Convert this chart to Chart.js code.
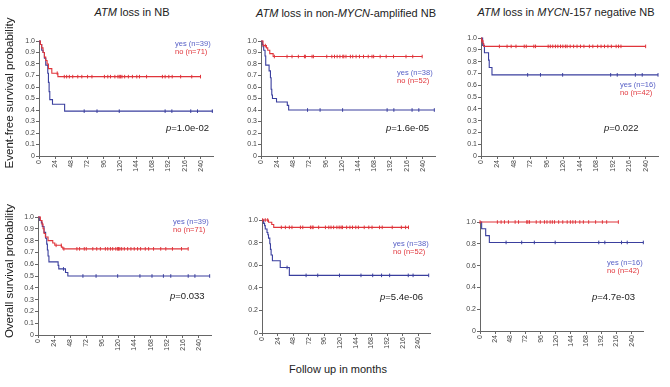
<!DOCTYPE html>
<html>
<head>
<meta charset="utf-8">
<script src="https://cdn.jsdelivr.net/npm/chart.js@4.4.1/dist/chart.umd.min.js"></script>
<style>
  html, body { margin: 0; padding: 0; background: #fff; }
  #wrap { position: relative; width: 670px; height: 387px; overflow: hidden; font-family: "Liberation Sans", Arial, sans-serif; }
  canvas { position: absolute; }
  .txt { position: absolute; white-space: nowrap; line-height: 1; }
</style>
</head>
<body>
<div id="wrap"></div>
<script>
// tick labels
const xTicks = [0, 24, 48, 72, 96, 120, 144, 168, 192, 216, 240];
const yTicks = [0, 0.1, 0.2, 0.3, 0.4, 0.5, 0.6, 0.7, 0.8, 0.9, 1.0];
const yTickLabels = ['0', '0.1', '0.2', '0.3', '0.4', '0.5', '0.6', '0.7', '0.8', '0.9', '1.0'];
const xMax = 258;

// event-free survival, all NB
const efsAllYesTime = [0, 2, 4, 6, 8, 10, 13, 14, 15, 16, 20, 38, 258];
const efsAllYesSurv = [1, .97, .92, .90, .85, .79, .72, .64, .56, .49, .45, .39, .39];
const efsAllYesCens = [67, 86, 119, 187, 197, 225, 235, 257];
const efsAllNoTime = [0, 2, 4, 6, 8, 10, 12, 14, 19, 28, 240];
const efsAllNoSurv = [1, .97, .94, .90, .86, .83, .80, .76, .72, .69, .69];
const efsAllNoCens = [27, 37.5, 41, 45, 50, 57.5, 63.5, 72, 78.5, 97, 102, 106, 112.5, 117, 119, 121, 123, 127, 132.5, 138.5, 145, 149, 159.5, 183, 187, 192.5, 197.5, 210, 226.5, 239.5];

// event-free survival, non-MYCN-amplified
const efsNonYesTime = [0, 2, 3, 4, 6, 7, 12, 14, 15, 16, 17, 23, 39, 41, 257];
const efsNonYesSurv = [1, .97, .95, .92, .87, .79, .74, .68, .58, .53, .50, .47, .44, .40, .40];
const efsNonYesCens = [69, 87.6, 121, 187, 197, 224, 234, 257];
const efsNonNoTime = [0, 3, 8, 10, 13, 18, 239];
const efsNonNoSurv = [1, .96, .94, .92, .89, .865, .865];
const efsNonNoCens = [6.4, 19.8, 38.6, 46, 55.4, 64.4, 65.8, 75.7, 77.7, 97.5, 105, 109, 112.9, 117, 121.3, 122.8, 126, 132.5, 136, 141, 146, 152, 159, 164.6, 167, 176.7, 185.6, 196.5, 215, 225, 239];

// event-free survival, MYCN-157 negative
const efsNegYesTime = [0, 2.4, 5, 11, 12, 16, 258];
const efsNegYesSurv = [1, .9375, .875, .8125, .75, .6875, .6875];
const efsNegYesCens = [68, 86.7, 119, 189, 198.6, 225, 235, 258];
const efsNegNoTime = [0, 1, 3, 4, 240];
const efsNegNoSurv = [1, .976, .952, .929, .929];
const efsNegNoCens = [1.5, 26.8, 38, 44, 51, 63, 66, 77, 79.5, 97.9, 101, 104.6, 108.5, 112, 115.9, 119.3, 123, 125.5, 130, 135, 140, 145, 150, 158, 163, 170, 175, 180, 185, 190, 197, 200.5, 204, 240];

// overall survival, all NB
const osAllYesTime = [0, 2.5, 5, 6.4, 9, 11.4, 13, 14, 15, 16.3, 30, 31, 41, 44.5, 256];
const osAllYesSurv = [1, .97, .95, .92, .87, .82, .77, .72, .67, .62, .59, .56, .53, .50, .50];
const osAllYesCens = [38, 67, 86.6, 118.8, 152, 170, 187, 198, 224, 234, 256];
const osAllNoTime = [0, 3.5, 6, 7.5, 9, 11, 15, 22, 25, 35, 37, 224];
const osAllNoSurv = [1, .97, .94, .90, .86, .83, .80, .78, .76, .745, .73, .73];
const osAllNoCens = [27, 34.7, 38.6, 58, 62, 69, 72, 81.7, 87.6, 93, 100.5, 104, 108, 111.4, 116, 118.8, 120, 122, 124.8, 128.7, 133.7, 138.6, 143.5, 148.5, 153, 160, 165, 172.3, 183, 190.6, 200.5, 214, 224];

// overall survival, non-MYCN-amplified
const osNonYesTime = [0, 2.5, 4, 5, 7.7, 9, 10, 12, 13, 14, 16, 28, 42, 256];
const osNonYesSurv = [1, .97, .95, .92, .89, .87, .84, .79, .74, .69, .64, .58, .51, .51];
const osNonYesCens = [38.5, 67.7, 85.6, 119, 152, 170, 183.6, 196, 224.6, 232, 256];
const osNonNoTime = [0, 10, 15, 18, 225];
const osNonNoSurv = [1, .98, .96, .935, .935];
const osNonNoCens = [1, 5, 8.7, 29.7, 35.9, 42, 46, 59, 62.6, 74.4, 77, 78.5, 87, 97.4, 102.6, 106, 110, 115, 118.5, 121.5, 123.6, 130, 135, 139, 144, 148, 157, 164, 169, 180.5, 184.6, 200, 214, 220.5, 225];

// overall survival, MYCN-157 negative
const osNegYesTime = [0, 2.6, 9, 14.8, 258.5];
const osNegYesSurv = [1, .9375, .875, .8125, .8125];
const osNegYesCens = [41.3, 66, 86, 119, 188, 197.6, 224, 233, 258.5];
const osNegNoTime = [0, 219];
const osNegNoSurv = [1, 1];
const osNegNoCens = [0, 27.5, 33.4, 38.7, 45, 55.6, 61, 74, 75.8, 78.4, 89, 95.4, 102, 106, 111, 114.5, 118, 124.5, 131, 138, 143, 147, 151, 158, 163.6, 172, 183, 193.7, 200.5, 219];

const blue = '#3a3f9e';
const red = '#e0353b';
const blueText = '#5860c6';

const wrap = document.getElementById('wrap');

// survival value of the step curve at time t
function survAt(times, surv, t) {
  let s = surv[0];
  for (let i = 0; i < times.length; i++) {
    if (times[i] <= t) s = surv[i];
  }
  return s;
}

function curve(times, surv, color) {
  return {
    data: times.map((t, i) => ({x: t, y: surv[i]})),
    borderColor: color, borderWidth: 1.1, stepped: true,
    pointRadius: 0, fill: false, clip: false
  };
}

function censors(cens, times, surv, color) {
  return {
    data: cens.map(t => ({x: t, y: survAt(times, surv, t)})),
    showLine: false, pointStyle: 'line', rotation: 90, pointRadius: 1.8,
    borderColor: color, borderWidth: 1, clip: false
  };
}

function panel(box, yes, no) {
  const padL = 28, padT = 6, padR = 6, padB = 24;
  const c = document.createElement('canvas');
  const w = box[2] - box[0] + padL + padR;
  const h = box[3] - box[1] + padT + padB;
  c.width = w; c.height = h;
  c.style.left = (box[0] - padL) + 'px';
  c.style.top = (box[1] - padT) + 'px';
  wrap.appendChild(c);
  new Chart(c, {
    type: 'line',
    data: {
      datasets: [
        curve(no[0], no[1], red),
        censors(no[2], no[0], no[1], red),
        curve(yes[0], yes[1], blue),
        censors(yes[2], yes[0], yes[1], blue)
      ]
    },
    options: {
      responsive: false, animation: false, devicePixelRatio: 1,
      layout: { padding: { left: 0, top: padT, right: padR, bottom: 0 } },
      plugins: { legend: { display: false }, tooltip: { enabled: false } },
      scales: {
        x: {
          type: 'linear', min: 0, max: xMax,
          afterBuildTicks: s => { s.ticks = xTicks.map(v => ({value: v})); },
          afterFit: s => { s.height = padB; },
          border: { display: true, color: '#666', width: 1 },
          grid: { display: true, drawOnChartArea: false, drawTicks: true, tickLength: 3, color: '#666' },
          ticks: { autoSkip: false, minRotation: 90, maxRotation: 90, padding: 1,
                   font: { size: 7, family: '"Liberation Sans", Arial, sans-serif' }, color: '#444' }
        },
        y: {
          type: 'linear', min: 0, max: 1,
          afterBuildTicks: s => { s.ticks = yTicks.map(v => ({value: v})); },
          afterFit: s => { s.width = padL; },
          border: { display: true, color: '#666', width: 1 },
          grid: { display: true, drawOnChartArea: false, drawTicks: true, tickLength: 3, color: '#666' },
          ticks: { padding: 1, callback: (v, i) => yTickLabels[i],
                   font: { size: 7, family: '"Liberation Sans", Arial, sans-serif' }, color: '#444' }
        }
      }
    }
  });
}

function text(html, x, y, size, color, opts) {
  const d = document.createElement('div');
  d.className = 'txt';
  d.innerHTML = html;
  d.style.fontSize = size + 'px';
  d.style.color = color || '#222';
  d.style.left = x + 'px';
  d.style.top = y + 'px';
  let tf = 'translate(0,-50%)';
  if (opts === 'center') tf = 'translate(-50%,-50%)';
  if (opts === 'vert') tf = 'translate(-50%,-50%) rotate(-90deg)';
  d.style.transform = tf;
  wrap.appendChild(d);
}

panel([39, 41, 213, 156], [efsAllYesTime, efsAllYesSurv, efsAllYesCens], [efsAllNoTime, efsAllNoSurv, efsAllNoCens]);
panel([261, 41, 435, 156], [efsNonYesTime, efsNonYesSurv, efsNonYesCens], [efsNonNoTime, efsNonNoSurv, efsNonNoCens]);
panel([481, 38, 658, 156], [efsNegYesTime, efsNegYesSurv, efsNegYesCens], [efsNegNoTime, efsNegNoSurv, efsNegNoCens]);
panel([38, 217, 211, 335], [osAllYesTime, osAllYesSurv, osAllYesCens], [osAllNoTime, osAllNoSurv, osAllNoCens]);
panel([262, 220, 430, 333], [osNonYesTime, osNonYesSurv, osNonYesCens], [osNonNoTime, osNonNoSurv, osNonNoCens]);
panel([480, 222, 643, 331], [osNegYesTime, osNegYesSurv, osNegYesCens], [osNegNoTime, osNegNoSurv, osNegNoCens]);

// titles
text('<i>ATM</i> loss in NB', 132, 12, 11, '#222', 'center');
text('<i>ATM</i> loss in non-<i>MYCN</i>-amplified NB', 346, 13, 11, '#222', 'center');
text('<i>ATM</i> loss in <i>MYCN</i>-157 negative NB', 566, 12, 11, '#222', 'center');

// axis titles
text('Event-free survival probability', 10, 93, 11.5, '#222', 'vert');
text('Overall survival probability', 10, 271, 11.5, '#222', 'vert');
text('Follow up in months', 338, 369, 11, '#222', 'center');

// legends
const legends = [
  [175, 44, 'yes (n=39)', 'no (n=71)'],
  [397, 73, 'yes (n=38)', 'no (n=52)'],
  [620, 85, 'yes (n=16)', 'no (n=42)'],
  [173, 222, 'yes (n=39)', 'no (n=71)'],
  [393, 244, 'yes (n=38)', 'no (n=52)'],
  [607, 263, 'yes (n=16)', 'no (n=42)']
];
legends.forEach(l => {
  text(l[2], l[0], l[1], 7.5, blueText);
  text(l[3], l[0], l[1] + 8, 7.5, red);
});

// p values
const pValues = [
  [166, 128, '1.0e-02'], [386, 128, '1.6e-05'], [604, 128, '0.022'],
  [170, 296, '0.033'], [380, 297, '5.4e-06'], [592, 297, '4.7e-03']
];
pValues.forEach(p => text('<i>p</i>=' + p[2], p[0], p[1], 9.5, '#222'));
</script>
</body>
</html>
